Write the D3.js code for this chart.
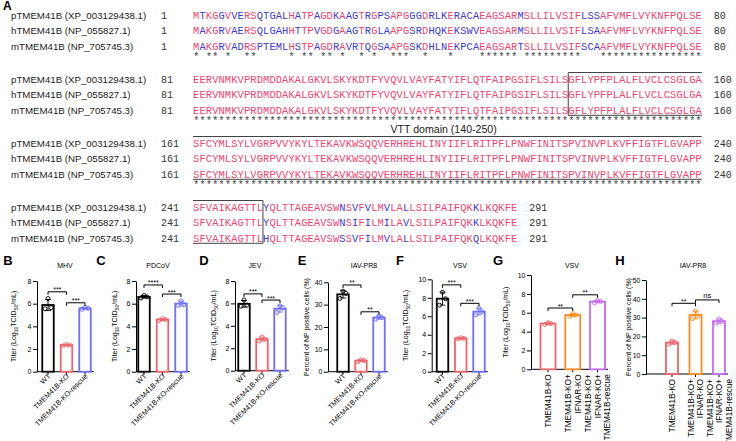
<!DOCTYPE html>
<html><head><meta charset="utf-8">
<script src="https://cdn.jsdelivr.net/npm/d3@7"></script>
<style>body{margin:0;background:#fff}svg{display:block}</style>
</head><body><svg id="c" width="736" height="441"></svg>
<script>
// ---------- Alignment data ----------
const seqNames = ["pTMEM41B (XP_003129438.1)", "hTMEM41B (NP_055827.1)", "mTMEM41B (NP_705745.3)"];
const seqP = "MTKGGVVERSQTGALHATPAGDKAAGTRGPSAPGGGDRLKERACAEAGSARMSLLILVSIFLSSAFVMFLVYKNFPQLSE" +
  "EERVNMKVPRDMDDAKALGKVLSKYKDTFYVQVLVAYFATYIFLQTFAIPGSIFLSILSGFLYPFPLALFLVCLCSGLGA" +
  "SFCYMLSYLVGRPVVYKYLTEKAVKWSQQVERHREHLINYIIFLRITPFLPNWFINITSPVINVPLKVFFIGTFLGVAPP" +
  "SFVAIKAGTTLYQLTTAGEAVSWNSVFVLMVLALLSILPAIFQKKLKQKFE";
const seqH = "MAKGRVAERSQLGAHHTTPVGDGAAGTRGLAAPGSRDHQKEKSWVEAGSARMSLLILVSIFLSAAFVMFLVYKNFPQLSE" +
  "EERVNMKVPRDMDDAKALGKVLSKYKDTFYVQVLVAYFATYIFLQTFAIPGSIFLSILSGFLYPFPLALFLVCLCSGLGA" +
  "SFCYMLSYLVGRPVVYKYLTEKAVKWSQQVERHREHLINYIIFLRITPFLPNWFINITSPVINVPLKVFFIGTFLGVAPP" +
  "SFVAIKAGTTLYQLTTAGEAVSWNSIFILMILAVLSILPAIFQKKLKQKFE";
const seqM = "MAKGRVADRSPTEMLHSTPAGDRAVRTQGSAAPGSKDHLNEKPCAEAGSARTSLLILVSIFSCAAFVMFLVYKNFPQLSE" +
  "EERVNMKVPRDMDDAKALGKVLSKYKDTFYVQVLVAYFATYIFLQTFAIPGSIFLSILSGFLYPFPLALFLVCLCSGLGA" +
  "SFCYMLSYLVGRPVVYKYLTEKAVKWSQQVERHREHLINYIIFLRITPFLPNWFINITSPVINVPLKVFFIGTFLGVAPP" +
  "SFVAIKAGTTLHQLTTAGEAVSWSSVFILMVLALLSILPAIFQKQLKQKFE";
const blockStarts = [0, 80, 160, 240];
const showStars = [true, true, true, false];
const domainBox = [140, 251];
const domainLabel = "VTT domain (140-250)";

// ---------- Bar chart data ----------
const catsVirus = ["WT", "TMEM41B-KO", "TMEM41B-KO-rescue"];
const catsIfnar = ["TMEM41B-KO", "TMEM41B-KO+\nIFNAR-KO", "TMEM41B-KO+\nIFNAR-KO+\nTMEM41B-rescue"];
const mhvReps = [[5.55, 5.65, 6.45], [2.3, 2.35, 2.4], [5.5, 5.58, 5.68]];
const pdcovReps = [[6.5, 6.6, 6.72], [4.52, 4.6, 4.68], [5.85, 5.92, 6.25]];
const jevReps = [[5.75, 5.85, 6.3], [2.65, 2.8, 3.0], [5.2, 5.6, 5.78]];
const iavReps = [[32.8, 35, 36], [4.5, 5.0, 5.3], [23.5, 24.2, 25]];
const vsvReps = [[7.2, 7.9, 8.6], [3.55, 3.6, 3.68], [6.15, 6.5, 6.85]];
const vsvIfnarReps = [[4.75, 4.85, 4.95], [5.6, 5.75, 5.9], [7.05, 7.2, 7.3]];
const iavIfnarReps = [[15.8, 16.8, 17.6], [29.5, 31, 33.5], [27, 28, 29.3]];
const mhvSig = [[0, 1, 7.05, "***"], [1, 2, 6.08, "***"]];
const pdcovSig = [[0, 1, 7.65, "****"], [1, 2, 6.85, "***"]];
const jevSig = [[0, 1, 6.85, "***"], [1, 2, 6.3, "***"]];
const iavSig = [[0, 1, 38.8, "**"], [1, 2, 26.8, "**"]];
const vsvSig = [[0, 1, 9.4, "***"], [1, 2, 7.4, "***"]];
const vsvIfnarSig = [[0, 1, 6.5, "**"], [1, 2, 7.9, "**"]];
const iavIfnarSig = [[0, 1, 37.6, "**"], [1, 2, 39.4, "ns"]];
const ticks8 = [0, 2, 4, 6, 8];
const ticks10 = [0, 2, 4, 6, 8, 10];
const ticks40 = [0, 10, 20, 30, 40];
const ticks50 = [0, 10, 20, 30, 40, 50];
const titerLabel = ["Titer (Log", "10", "TCID", "50", "/mL)"];
const pctLabel = ["Percent of NP positive cells (%)"];

// ---------- Drawing ----------
const svg = d3.select("#c");
const SANS = "'Liberation Sans', Arial, sans-serif";
const MONO = "'Liberation Mono', 'Courier New', monospace";
const PINK = "#f0446f", BLUE = "#3a3ad4";
const seqs = [seqP, seqH, seqM];

svg.append("text").attr("x", 3).attr("y", 10).text("A")
  .attr("font-family", SANS).attr("font-weight", "bold").attr("font-size", 12);

const xChar = d3.scaleLinear().domain([0, 80]).range([193, 701.8]);
const yBlock = d3.scaleLinear().domain([0, 3]).range([15, 207]);
const rowStep = 15.9;
const g = svg.append("g");

blockStarts.forEach((start, b) => {
  const len = Math.min(80, seqP.length - start);
  seqs.forEach((s, r) => {
    const y = yBlock(b) + r * rowStep;
    g.append("text").attr("x", 11).attr("y", y + 3.5).text(seqNames[r])
      .attr("font-family", SANS).attr("font-size", 9.7).attr("fill", "#222");
    g.append("text").attr("x", 161).attr("y", y + 3.5).text(String(start + 1))
      .attr("font-family", MONO).attr("font-size", 10).attr("fill", "#333");
    g.append("text").attr("x", xChar(len) + 12).attr("y", y + 3.5).text(String(start + len))
      .attr("font-family", MONO).attr("font-size", 10).attr("fill", "#333");
    const idx = d3.range(len);
    g.selectAll(null).data(idx).join("text")
      .attr("x", i => xChar(i + 0.5)).attr("y", y + 3.5)
      .attr("text-anchor", "middle")
      .attr("font-family", MONO).attr("font-size", 10.4)
      .attr("fill", i => seqs.every(q => q[start + i] === s[start + i]) ? PINK : BLUE)
      .text(i => s[start + i]);
  });
  if (showStars[b]) {
    const idx = d3.range(len).filter(i => seqs.every(q => q[start + i] === seqP[start + i]));
    g.selectAll(null).data(idx).join("text")
      .attr("x", i => xChar(i + 0.5)).attr("y", yBlock(b) + 2 * rowStep + 13)
      .attr("text-anchor", "middle").attr("font-family", MONO).attr("font-size", 10)
      .attr("fill", "#444").text("*");
  }
  // domain box
  const first = start + 1, last = start + len;
  if (domainBox[0] <= last && domainBox[1] >= first) {
    const i0 = Math.max(domainBox[0], first) - first;
    const i1 = (domainBox[1] <= last) ? domainBox[1] - first + 1 : 80;
    const top = yBlock(b) - 6.5, bot = yBlock(b) + 2 * rowStep + 4.5;
    const stroke = l => l.attr("stroke", "#444").attr("stroke-width", 1).attr("fill", "none");
    stroke(g.append("line").attr("x1", xChar(i0)).attr("x2", xChar(i1)).attr("y1", top).attr("y2", top));
    stroke(g.append("line").attr("x1", xChar(i0)).attr("x2", xChar(i1)).attr("y1", bot).attr("y2", bot));
    if (domainBox[0] >= first) stroke(g.append("line").attr("x1", xChar(i0)).attr("x2", xChar(i0)).attr("y1", top).attr("y2", bot));
    if (domainBox[1] <= last) stroke(g.append("line").attr("x1", xChar(i1)).attr("x2", xChar(i1)).attr("y1", top).attr("y2", bot));
    if (domainBox[0] < first && domainBox[1] > last) {
      g.append("text").attr("x", xChar(39.4)).attr("y", yBlock(b) - 10)
        .attr("text-anchor", "middle").attr("font-family", SANS).attr("font-size", 10.6)
        .attr("fill", "#222").text(domainLabel);
    }
  }
});

// ---------- Panels ----------
const colVirus = ["#000000", "#f2646c", "#7070fa"];
const colIfnar = ["#f2646c", "#fd8b22", "#c56cf3"];
const panels = [
  {letter: "B", lx: 8, title: "MHV", tx: 65, ax: 37, xr: [48, 85], y0: 371.7, yt: 281, dom: [0, 8], ticks: ticks8, lab: titerLabel, labX: 16, cats: catsVirus, reps: mhvReps, sig: mhvSig, cols: colVirus, bw: 11.5, vert: false},
  {letter: "C", lx: 101, title: "PDCoV", tx: 158, ax: 136, xr: [144, 181], y0: 371.7, yt: 281, dom: [0, 8], ticks: ticks8, lab: titerLabel, labX: 117, cats: catsVirus, reps: pdcovReps, sig: pdcovSig, cols: colVirus, bw: 11.5, vert: false},
  {letter: "D", lx: 204, title: "JEV", tx: 255, ax: 235, xr: [244, 280], y0: 370.7, yt: 281, dom: [0, 8], ticks: ticks8, lab: titerLabel, labX: 216, cats: catsVirus, reps: jevReps, sig: jevSig, cols: colVirus, bw: 11.5, vert: false},
  {letter: "E", lx: 302, title: "IAV-PR8", tx: 364, ax: 328, xr: [343, 379], y0: 371.7, yt: 282.3, dom: [0, 40], ticks: ticks40, lab: pctLabel, labX: 309, cats: catsVirus, reps: iavReps, sig: iavSig, cols: colVirus, bw: 11.5, vert: false},
  {letter: "F", lx: 400, title: "VSV", tx: 460, ax: 431.7, xr: [442.5, 479], y0: 371.7, yt: 279.3, dom: [0, 10], ticks: ticks10, lab: titerLabel, labX: 408, cats: catsVirus, reps: vsvReps, sig: vsvSig, cols: colVirus, bw: 11.5, vert: false},
  {letter: "G", lx: 498, title: "VSV", tx: 572, ax: 531, xr: [548, 597.5], y0: 369.3, yt: 275, dom: [0, 10], ticks: ticks10, lab: titerLabel, labX: 508, cats: catsIfnar, reps: vsvIfnarReps, sig: vsvIfnarSig, cols: colIfnar, bw: 15, vert: true},
  {letter: "H", lx: 620, title: "IAV-PR8", tx: 693, ax: 646, xr: [672, 719], y0: 374, yt: 280, dom: [0, 50], ticks: ticks50, lab: pctLabel, labX: 631, cats: catsIfnar, reps: iavIfnarReps, sig: iavIfnarSig, cols: colIfnar, bw: 12, vert: true}
];

panels.forEach(p => {
  const pg = svg.append("g");
  pg.append("text").attr("x", p.lx).attr("y", 265).attr("text-anchor", "middle")
    .attr("font-family", SANS).attr("font-weight", "bold").attr("font-size", 13).text(p.letter);
  pg.append("text").attr("x", p.tx).attr("y", 267.5).attr("text-anchor", "middle")
    .attr("font-family", SANS).attr("font-size", 7).text(p.title);
  const y = d3.scaleLinear().domain(p.dom).range([p.y0, p.yt]);
  const x = d3.scalePoint().domain(p.cats).range(p.xr);
  // y axis
  const ya = pg.append("g").attr("transform", `translate(${p.ax},0)`)
    .call(d3.axisLeft(y).tickValues(p.ticks).tickSize(4).tickSizeOuter(0).tickPadding(1.5));
  ya.select(".domain").attr("stroke", "#000").attr("stroke-width", 1);
  ya.selectAll(".tick line").attr("stroke", "#000");
  ya.selectAll(".tick text").attr("font-family", SANS).attr("font-size", 7).attr("fill", "#000");
  // x axis
  const xEnd = p.xr[1] + p.bw / 2 + 3;
  pg.append("line").attr("x1", p.ax).attr("x2", xEnd).attr("y1", p.y0).attr("y2", p.y0)
    .attr("stroke", "#000").attr("stroke-width", 1);
  pg.selectAll(null).data(p.cats).join("line")
    .attr("x1", d => x(d)).attr("x2", d => x(d)).attr("y1", p.y0).attr("y2", p.y0 + 3)
    .attr("stroke", "#000").attr("stroke-width", 1);
  // y label
  const yl = pg.append("text").attr("text-anchor", "middle")
    .attr("transform", `translate(${p.labX},${(p.y0 + p.yt) / 2}) rotate(-90)`)
    .attr("font-family", SANS).attr("font-size", 7).attr("fill", "#000");
  p.lab.forEach((part, k) => {
    const sub = k % 2 === 1;
    yl.append("tspan").text(part).attr("font-size", sub ? 5 : 7)
      .attr("dy", p.lab.length > 1 ? (sub ? 1.8 : (k === 0 ? 0 : -1.8)) : 0);
  });
  // bars
  p.cats.forEach((c, i) => {
    const vals = p.reps[i];
    const m = d3.mean(vals), sd = d3.deviation(vals);
    const col = p.cols[i];
    pg.append("rect").attr("x", x(c) - p.bw / 2).attr("y", y(m))
      .attr("width", p.bw).attr("height", p.y0 - y(m))
      .attr("fill", "#fff").attr("stroke", col).attr("stroke-width", 1.8);
    pg.append("line").attr("x1", x(c)).attr("x2", x(c)).attr("y1", y(m - sd)).attr("y2", y(m + sd))
      .attr("stroke", col).attr("stroke-width", 0.9);
    [m + sd, m - sd].forEach(v => pg.append("line").attr("x1", x(c) - 3).attr("x2", x(c) + 3)
      .attr("y1", y(v)).attr("y2", y(v)).attr("stroke", col).attr("stroke-width", 0.9));
    const jit = [-3, 3, 0];
    pg.selectAll(null).data(vals).join("circle")
      .attr("cx", (v, k) => x(c) + jit[k]).attr("cy", v => y(v)).attr("r", 2)
      .attr("fill", "none").attr("stroke", col).attr("stroke-width", 0.9);
    // category label
    if (!p.vert) {
      pg.append("text").attr("text-anchor", "end")
        .attr("transform", `translate(${x(c) + 3},${p.y0 + 5}) rotate(-45)`)
        .attr("font-family", SANS).attr("font-size", 7.2).text(c);
    } else {
      const lines = c.split("\n");
      lines.forEach((ln, j) => {
        pg.append("text").attr("text-anchor", "end")
          .attr("transform", `translate(${x(c) + (j - (lines.length - 1) / 2) * 9.5 + 3},${p.y0 + 5}) rotate(-90)`)
          .attr("font-family", SANS).attr("font-size", 8.2).text(ln);
      });
    }
  });
  // significance
  p.sig.forEach(([a, b, v, lab]) => {
    const xa = x(p.cats[a]), xb = x(p.cats[b]), yy = y(v);
    pg.append("path").attr("d", `M${xa},${yy + 3}V${yy}H${xb}V${yy + 3}`)
      .attr("fill", "none").attr("stroke", "#000").attr("stroke-width", 1);
    pg.append("text").attr("x", (xa + xb) / 2).attr("y", lab === "ns" ? yy - 2 : yy + 0.5)
      .attr("text-anchor", "middle").attr("font-family", SANS)
      .attr("font-size", lab === "ns" ? 7.5 : 7).text(lab);
  });
});
</script></body></html>
